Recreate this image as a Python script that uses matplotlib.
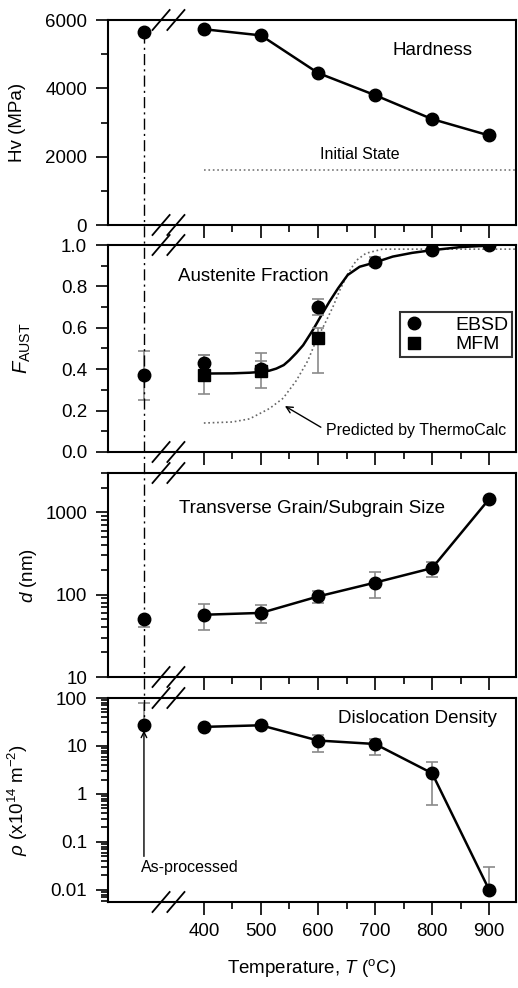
import numpy as np
import matplotlib
matplotlib.use('Agg')
import matplotlib.pyplot as plt
from matplotlib.lines import Line2D
from matplotlib.ticker import FixedLocator, FuncFormatter, LogLocator, NullFormatter
import matplotlib.transforms as mtransforms

plt.rcParams['font.family'] = ['Liberation Sans', 'DejaVu Sans']
plt.rcParams['mathtext.fontset'] = 'custom'
plt.rcParams['mathtext.rm'] = 'Liberation Sans'
plt.rcParams['mathtext.it'] = 'Liberation Sans:italic'

# annealing temperatures (C) and the as-processed position on the broken axis
temps = [400, 500, 600, 700, 800, 900]
as_x = 295

# hardness
hardness = [5730, 5550, 4450, 3800, 3100, 2620]
hardness_as = 5650
initial_state = 1600

# austenite fraction
ebsd = [0.43, 0.40, 0.70, 0.92, 0.975, 1.0]
ebsd_lo = [0.39, 0.36, 0.66, 0.90, 0.96, 0.99]
ebsd_hi = [0.47, 0.44, 0.74, 0.94, 0.99, 1.01]
mfm_t = [400, 500, 600]
mfm = [0.37, 0.39, 0.55]
mfm_lo = [0.28, 0.31, 0.38]
mfm_hi = [0.47, 0.48, 0.60]
faust_as, faust_as_lo, faust_as_hi = 0.37, 0.25, 0.49
fit_t = [400, 450, 480, 501, 515, 527, 540, 550, 562, 574, 591, 606, 620, 635,
         652, 673, 699, 731, 765, 800, 850, 900]
fit_f = [0.379, 0.380, 0.383, 0.387, 0.393, 0.403, 0.42, 0.444, 0.478, 0.516,
         0.589, 0.661, 0.726, 0.79, 0.855, 0.895, 0.915, 0.944, 0.962, 0.975, 0.99, 0.997]
tc_t = [400, 450, 480, 515, 539, 562, 582, 597, 612, 626, 638, 652, 667, 684, 713, 800, 945]
tc_f = [0.14, 0.145, 0.16, 0.21, 0.26, 0.345, 0.44, 0.54, 0.62, 0.70, 0.78, 0.86,
        0.925, 0.96, 0.98, 0.98, 0.98]

# grain size (nm)
grain = [57, 60, 95, 140, 210, 1450]
grain_lo = [37, 45, 80, 90, 165, 1450]
grain_hi = [78, 75, 110, 190, 250, 1450]
grain_as, grain_as_lo, grain_as_hi = 50, 40, 50

# dislocation density (x10^14 m^-2)
rho = [25, 27, 13, 11, 2.7, 0.01]
rho_lo = [25, 27, 7.5, 6.5, 0.6, 0.01]
rho_hi = [25, 27, 17, 14, 4.7, 0.03]
rho_as, rho_as_lo, rho_as_hi = 28, 28, 80

FS = 13.5
fig = plt.figure(figsize=(5.18, 9.88), dpi=100)
W, H = 518.0, 988.0
left, right = 108 / W, 516 / W
boxes = [(20, 225), (245, 452), (473, 677), (698, 902)]
axes = []
for top, bot in boxes:
    ax = fig.add_axes([left, 1 - bot / H, right - left, (bot - top) / H])
    axes.append(ax)
ax1, ax2, ax3, ax4 = axes

for ax in axes:
    ax.set_xlim(232, 947)
    ax.xaxis.set_major_locator(FixedLocator(temps))
    ax.xaxis.set_minor_locator(FixedLocator([450, 550, 650, 750, 850]))
    ax.tick_params(which='major', direction='out', length=9, width=1.2, labelsize=FS, pad=6)
    ax.tick_params(which='minor', direction='out', length=5, width=1.2)
    for s in ax.spines.values():
        s.set_linewidth(1.5)
    if ax is not ax4:
        ax.tick_params(axis='x', labelbottom=False)

err_kw = dict(ecolor='#8a8a8a', elinewidth=1.2, capsize=4, capthick=1.2)
mk = dict(color='black', marker='o', markersize=9, lw=1.8)

# panel 1: hardness
ax1.plot(temps, hardness, **mk)
ax1.plot([as_x], [hardness_as], 'o', color='black', markersize=9, clip_on=False)
ax1.plot([400, 947], [initial_state, initial_state], ':', color='#777777', lw=1.2)
ax1.set_ylim(0, 6000)
ax1.set_yticks([0, 2000, 4000, 6000])
ax1.yaxis.set_minor_locator(FixedLocator([1000, 3000, 5000]))
ax1.text(800, 5120, 'Hardness', fontsize=FS, ha='center', va='center')
ax1.text(673, 2050, 'Initial State', fontsize=11.5, ha='center', va='center')
ax1.set_ylabel('Hv (MPa)', fontsize=FS)
ax1.yaxis.set_label_coords(-0.2, 0.5)

# panel 2: austenite fraction
ax2.plot(tc_t, tc_f, ':', color='#666666', lw=1.2)
ax2.plot(fit_t, fit_f, '-', color='black', lw=1.8)
ax2.errorbar(temps, ebsd, yerr=[np.subtract(ebsd, ebsd_lo), np.subtract(ebsd_hi, ebsd)],
             fmt='o', color='black', markersize=9, **err_kw)
ax2.errorbar(mfm_t, mfm, yerr=[np.subtract(mfm, mfm_lo), np.subtract(mfm_hi, mfm)],
             fmt='s', color='black', markersize=8, **err_kw)
ax2.errorbar([as_x], [faust_as], yerr=[[faust_as - faust_as_lo], [faust_as_hi - faust_as]],
             fmt='o', color='black', markersize=9, **err_kw)
ax2.set_ylim(0, 1.0)
ax2.set_yticks(np.arange(0, 1.01, 0.2))
ax2.yaxis.set_major_formatter(FuncFormatter(lambda v, p: '%.1f' % v))
ax2.yaxis.set_minor_locator(FixedLocator([0.1, 0.3, 0.5, 0.7, 0.9]))
ax2.text(486, 0.846, 'Austenite Fraction', fontsize=FS, ha='center', va='center')
ax2.annotate('Predicted by ThermoCalc', xy=(542, 0.222), xytext=(772, 0.105),
             fontsize=11.5, ha='center', va='center',
             arrowprops=dict(arrowstyle='->', color='black', lw=1.0,
                             shrinkA=2, shrinkB=0, relpos=(0.0, 0.5)))
handles = [Line2D([], [], marker='o', color='black', ls='none', markersize=9),
           Line2D([], [], marker='s', color='black', ls='none', markersize=8)]
leg = ax2.legend(handles, ['EBSD', 'MFM'], loc='upper right', bbox_to_anchor=(0.99, 0.675),
                 borderaxespad=0, fontsize=14, frameon=True, fancybox=False,
                 handlelength=1.0, handletextpad=1.6, borderpad=0.2, labelspacing=0.1)
leg.get_frame().set_edgecolor('black')
leg.get_frame().set_linewidth(1.5)
ax2.set_ylabel(r'$F_{\mathrm{AUST}}$', fontsize=FS + 1)
ax2.yaxis.set_label_coords(-0.185, 0.5)

# panel 3: grain size
ax3.set_yscale('log')
ax3.errorbar(temps, grain, yerr=[np.subtract(grain, grain_lo), np.subtract(grain_hi, grain)],
             fmt='-o', color='black', markersize=9, lw=1.8, **err_kw)
ax3.errorbar([as_x], [grain_as], yerr=[[grain_as - grain_as_lo], [grain_as_hi - grain_as]],
             fmt='o', color='black', markersize=9, **err_kw)
ax3.set_ylim(10, 3000)
ax3.yaxis.set_major_locator(LogLocator(base=10, numticks=10))
ax3.yaxis.set_minor_locator(LogLocator(base=10, subs=np.arange(2, 10), numticks=20))
ax3.yaxis.set_major_formatter(FuncFormatter(lambda v, p: '%g' % v))
ax3.yaxis.set_minor_formatter(NullFormatter())
ax3.text(589, 1117, 'Transverse Grain/Subgrain Size', fontsize=FS, ha='center', va='center')
ax3.set_ylabel(r'$d$ (nm)', fontsize=FS)
ax3.yaxis.set_label_coords(-0.17, 0.5)

# panel 4: dislocation density
ax4.set_yscale('log')
ax4.errorbar(temps, rho, yerr=[np.subtract(rho, rho_lo), np.subtract(rho_hi, rho)],
             fmt='-o', color='black', markersize=9, lw=1.8, **err_kw)
ax4.errorbar([as_x], [rho_as], yerr=[[rho_as - rho_as_lo], [rho_as_hi - rho_as]],
             fmt='o', color='black', markersize=9, **err_kw)
ax4.set_ylim(0.0056, 100)
ax4.yaxis.set_major_locator(LogLocator(base=10, numticks=10))
ax4.yaxis.set_minor_locator(LogLocator(base=10, subs=np.arange(2, 10), numticks=20))
ax4.yaxis.set_major_formatter(FuncFormatter(lambda v, p: '%g' % v))
ax4.yaxis.set_minor_formatter(NullFormatter())
ax4.text(774, 38, 'Dislocation Density', fontsize=FS, ha='center', va='center')
ax4.annotate('', xy=(as_x, 21), xytext=(as_x, 0.05),
             arrowprops=dict(arrowstyle='->', color='black', lw=1.0, shrinkA=0, shrinkB=0))
ax4.text(375, 0.03, 'As-processed', fontsize=11.5, ha='center', va='center')
ax4.set_ylabel(r'$\rho$ (x10$^{14}$ m$^{-2}$)', fontsize=FS)
ax4.yaxis.set_label_coords(-0.19, 0.5)
ax4.set_xlabel(r'Temperature, $T$ ($^{\mathrm{o}}$C)', fontsize=FS, labelpad=12)

# dash-dot guide through the as-processed column
tr = mtransforms.blended_transform_factory(ax4.transData, fig.transFigure)
fig.add_artist(Line2D([as_x, as_x], [1 - 32 / H, 1 - 722 / H], transform=tr,
                      color='black', lw=1.0, ls='-.', dashes=(8, 3, 1.5, 3)))

# axis-break marks
for ax, (top, bot) in zip(axes, boxes):
    h = bot - top
    dy = 10.0 / h
    dx = 15
    trb = mtransforms.blended_transform_factory(ax.transData, ax.transAxes)
    for ya in (0, 1):
        for xc in (325, 351):
            ax.plot([xc - dx, xc + dx], [ya - dy, ya + dy], color='black', lw=1.3,
                    transform=trb, clip_on=False)

fig.savefig('out.png', dpi=100, facecolor='white')
